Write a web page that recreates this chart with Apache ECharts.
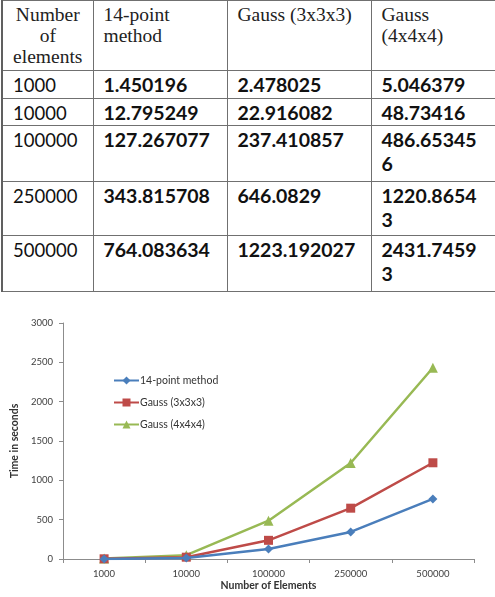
<!DOCTYPE html>
<html>
<head>
<meta charset="utf-8">
<script src="https://cdn.jsdelivr.net/npm/echarts@6/dist/echarts.min.js"></script>
<style>
  html, body { margin: 0; padding: 0; background: #fff; }
  #chart { position: absolute; left: 0; top: 0; width: 495px; height: 597px; }
  #tbl { position: absolute; left: 1px; top: 0; border-collapse: collapse; table-layout: fixed; width: 500px; z-index: 2; background: #fff; }
  #tbl td { border: 1.5px solid #707070; vertical-align: top; padding: 2px 4px 0 10px; font-family: Lato, sans-serif; font-size: 18.5px; line-height: 24px; color: #111; overflow: hidden; }
  #tbl td.h { font-family: "Liberation Serif", "DejaVu Serif", serif; font-size: 19.5px; line-height: 21px; padding-top: 3px; color: #222; word-break: normal; }
  #tbl td.h0 { text-align: center; padding-left: 6px; padding-right: 6px; }
  #tbl td.b { font-weight: bold; font-size: 19.5px; word-break: break-all; }
  #tbl td.last { padding-right: 22px; }
  #tbl tr td:first-child { border-left: 2px solid #606060; }
</style>
</head>
<body>
<table id="tbl"></table>
<div id="chart"></div>
<script>
// ---- data ----
const headers = ['Number of elements', '14-point method', 'Gauss (3x3x3)', 'Gauss (4x4x4)'];
const categories = ['1000', '10000', '100000', '250000', '500000'];
const pointMethod = [1.450196, 12.795249, 127.267077, 343.815708, 764.083634];
const gauss333 = [2.478025, 22.916082, 237.410857, 646.0829, 1223.192027];
const gauss444 = [5.046379, 48.73416, 486.653456, 1220.86543, 2431.74593];
const seriesNames = ['14-point method', 'Gauss (3x3x3)', 'Gauss (4x4x4)'];
const yTicks = [0, 500, 1000, 1500, 2000, 2500, 3000];

// ---- table ----
const colW = [91, 134, 144, 131];
const rowH = [70, 28, 27, 56, 54, 56];
const tbl = document.getElementById('tbl');
let html = '<colgroup>' + colW.map(w => '<col style="width:' + w + 'px">').join('') + '</colgroup>';
html += '<tr style="height:' + rowH[0] + 'px">' + headers.map((h, i) => '<td class="h' + (i === 0 ? ' h0' : '') + (i === 3 ? ' last' : '') + '">' + h + '</td>').join('') + '</tr>';
categories.forEach((c, r) => {
  const vals = [pointMethod[r], gauss333[r], gauss444[r]];
  html += '<tr style="height:' + rowH[r + 1] + 'px"><td>' + c + '</td>' + vals.map((v, j) => '<td class="b' + (j === 2 ? ' last' : '') + '">' + String(v) + '</td>').join('') + '</tr>';
});
tbl.innerHTML = html;

// ---- chart ----
const colors = ['#4a7ebb', '#be4b48', '#98b954'];
const symbols = ['diamond', 'rect', 'triangle'];
const symSizes = [9, 9, 10];
const dataSets = [pointMethod, gauss333, gauss444];
const chart = echarts.init(document.getElementById('chart'), null, { renderer: 'canvas' });
const font = 'Lato, "Open Sans", sans-serif';
chart.setOption({
  animation: false,
  textStyle: { fontFamily: font },
  grid: { left: 63, right: 21, top: 323, bottom: 38, containLabel: false },
  legend: {
    orient: 'vertical', left: 108, top: 370, itemGap: 11,
    itemWidth: 25, itemHeight: 10,
    textStyle: { fontSize: 10.5, color: '#333', fontFamily: font, padding: [0, 0, 0, -4] },
    data: seriesNames
  },
  xAxis: {
    type: 'category', data: categories, boundaryGap: true,
    name: 'Number of Elements', nameLocation: 'middle', nameGap: 19,
    nameTextStyle: { fontSize: 10.5, fontWeight: 'bold', color: '#333', fontFamily: font },
    axisLine: { lineStyle: { color: '#8c8c8c', width: 1 } },
    axisTick: { show: true, alignWithLabel: false, length: 4, lineStyle: { color: '#8c8c8c' } },
    axisLabel: { fontSize: 9.5, color: '#404040', margin: 10 },
    splitLine: { show: false }
  },
  yAxis: {
    type: 'value', min: yTicks[0], max: yTicks[yTicks.length - 1], interval: 500,
    name: 'Time in seconds', nameLocation: 'middle', nameGap: 38, nameRotate: 90,
    nameTextStyle: { fontSize: 10.5, fontWeight: 'bold', color: '#333', fontFamily: font },
    axisLine: { show: true, lineStyle: { color: '#8c8c8c', width: 1 } },
    axisTick: { show: true, length: 4, lineStyle: { color: '#8c8c8c' } },
    axisLabel: { fontSize: 9.5, color: '#404040', margin: 10, formatter: v => String(v) },
    splitLine: { show: false }
  },
  series: seriesNames.map((n, i) => ({
    name: n, type: 'line', data: dataSets[i],
    symbol: symbols[i], symbolSize: symSizes[i], showSymbol: true,
    lineStyle: { width: 2.5, color: colors[i] },
    itemStyle: { color: colors[i] },
    z: 3 - i
  }))
});
</script>
</body>
</html>
